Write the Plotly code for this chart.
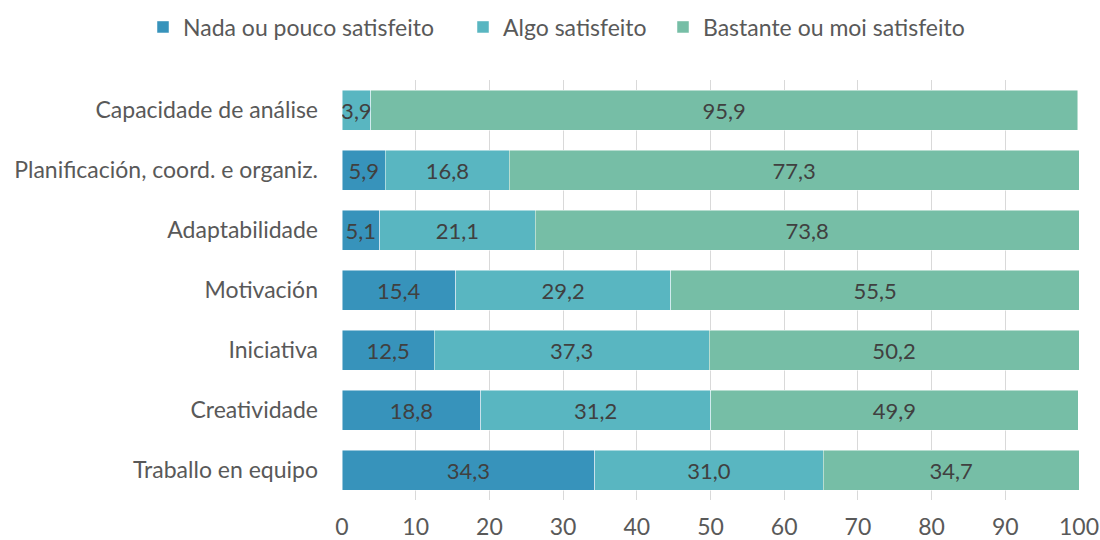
import plotly.graph_objects as go

categories = ["Capacidade de análise", "Planificación, coord. e organiz.", "Adaptabilidade",
              "Motivación", "Iniciativa", "Creatividade", "Traballo en equipo"]
nada = [0.0, 5.9, 5.1, 15.4, 12.5, 18.8, 34.3]
algo = [3.9, 16.8, 21.1, 29.2, 37.3, 31.2, 31.0]
bastante = [95.9, 77.3, 73.8, 55.5, 50.2, 49.9, 34.7]
series_names = ["Nada ou pouco satisfeito", "Algo satisfeito", "Bastante ou moi satisfeito"]
colors = ["#3793bb", "#59b6c1", "#76bea6"]
x_ticks = [0, 10, 20, 30, 40, 50, 60, 70, 80, 90, 100]

FONT = "Lato, 'Source Sans Pro', sans-serif"
W, H = 1100, 540
legend_ids = ["legend", "legend2", "legend3"]
legend_left_px = [143, 463, 663]

def fmt(v):
    return f"{v:.1f}".replace(".", ",") if v > 0 else ""

fig = go.Figure()
for name, vals, col, lid in zip(series_names, [nada, algo, bastante], colors, legend_ids):
    fig.add_trace(go.Bar(
        y=categories, x=vals, name=name, orientation="h", legend=lid,
        marker=dict(color=col, line=dict(color="rgba(255,255,255,0.6)", width=0.8)),
        text=[fmt(v) for v in vals], textposition="inside", insidetextanchor="middle",
        textangle=0, textfont=dict(color="#404040", size=22, family=FONT),
        hoverinfo="x+y+name",
    ))

legend_common = dict(orientation="h", xanchor="left", xref="container",
                     yanchor="middle", yref="container", y=1 - 27 / H,
                     font=dict(size=23, color="#595959"), bgcolor="rgba(0,0,0,0)")
legends = {lid: dict(x=px / W, **legend_common) for lid, px in zip(legend_ids, legend_left_px)}

fig.update_layout(
    barmode="stack", bargap=1/3,
    width=W, height=H,
    margin=dict(l=342, r=21, t=80, b=40, autoexpand=False),
    paper_bgcolor="white", plot_bgcolor="white",
    font=dict(family=FONT, size=23, color="#595959"),
    uniformtext=dict(minsize=22, mode="show"),
    showlegend=True,
    xaxis=dict(range=[0, 100], tickvals=x_ticks, showgrid=True, gridcolor="#d9d9d9",
               gridwidth=1, zeroline=False, ticks="", automargin=False, ticklabelstandoff=11,
               tickfont=dict(size=23, color="#595959"), fixedrange=True),
    yaxis=dict(autorange="reversed", showgrid=False, ticks="", ticklabelstandoff=23,
               automargin=False, tickfont=dict(size=23, color="#595959"), showline=False,
               fixedrange=True),
    **legends,
)

fig.write_html("out.html", config={"displayModeBar": False},
               post_script="document.body.style.margin='0';document.body.style.overflow='hidden';")
